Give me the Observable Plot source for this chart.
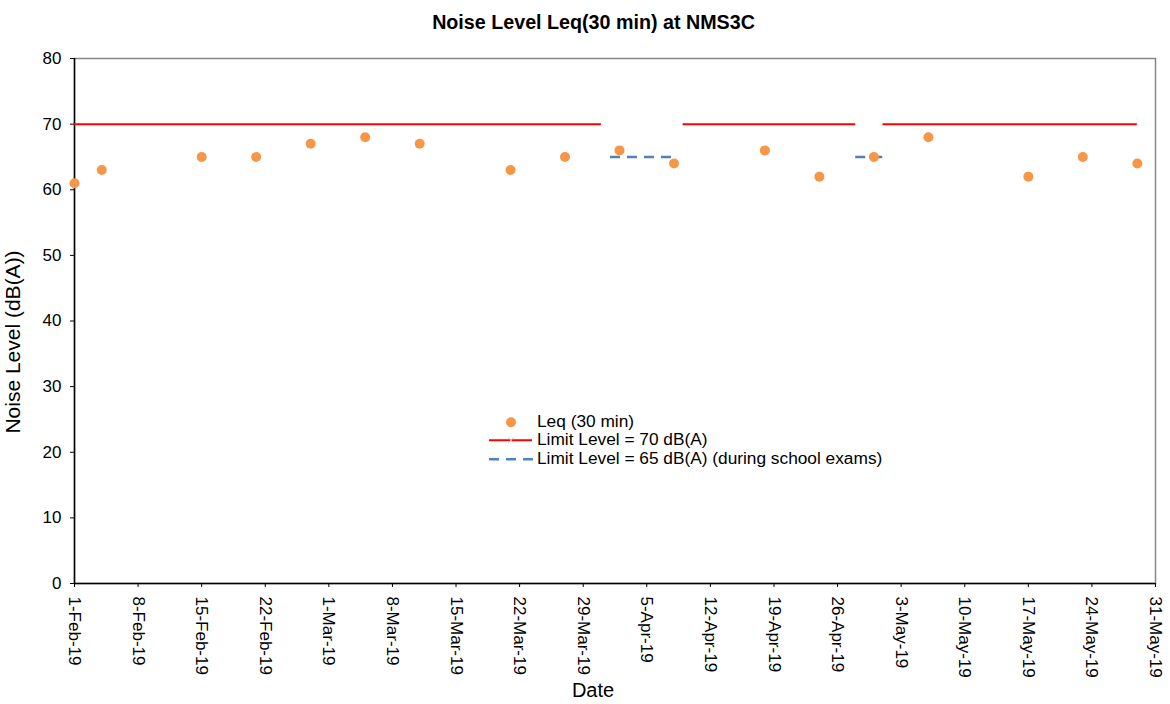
<!DOCTYPE html>
<html>
<head>
<meta charset="utf-8">
<script src="https://cdn.jsdelivr.net/npm/d3@7"></script>
<script src="https://cdn.jsdelivr.net/npm/@observablehq/plot@0.6"></script>
<style>
  html, body { margin: 0; padding: 0; background: #fff; }
  #wrap { position: relative; width: 1170px; height: 704px; font-family: "Liberation Sans", Arial, sans-serif; color: #000; }
  #title { box-sizing: border-box; width: 1170px; height: 40px; line-height: 45px; padding-left: 17px; text-align: center; font-weight: bold; font-size: 19.7px; white-space: nowrap; }
  #legend { position: absolute; left: 489px; top: 412.9px; font-size: 16px; }
  #legend .row { display: flex; align-items: center; height: 18.4px; white-space: nowrap; }
  #legend .row span { display: inline-block; height: 18.4px; line-height: 18.4px; transform: scaleX(1.08); transform-origin: 0 50%; }
  #legend svg { display: block; flex: none; }
</style>
</head>
<body>
<div id="wrap">
  <div id="title"></div>
  <div id="chart"></div>
  <div id="legend"></div>
</div>
<script>
// ---- Data ----
const chartTitle = "Noise Level Leq(30 min) at NMS3C";
const yLabel = "Noise Level (dB(A))";
const xLabel = "Date";

const leqDates = ["2019-02-01","2019-02-04","2019-02-15","2019-02-21","2019-02-27","2019-03-05","2019-03-11","2019-03-21","2019-03-27","2019-04-02","2019-04-08","2019-04-18","2019-04-24","2019-04-30","2019-05-06","2019-05-17","2019-05-23","2019-05-29"];
const leqValues = [61,63,65,65,67,68,67,63,65,66,64,66,62,65,68,62,65,64];

const limit70Level = 70;
const limit70Starts = ["2019-02-01","2019-04-09","2019-05-01"];
const limit70Ends   = ["2019-03-31","2019-04-28","2019-05-29"];

const limit65Level = 65;
const limit65Starts = ["2019-04-01","2019-04-28"];
const limit65Ends   = ["2019-04-08","2019-05-01"];

const xDomain = ["2019-02-01","2019-05-31"];
const xTicks = ["2019-02-01","2019-02-08","2019-02-15","2019-02-22","2019-03-01","2019-03-08","2019-03-15","2019-03-22","2019-03-29","2019-04-05","2019-04-12","2019-04-19","2019-04-26","2019-05-03","2019-05-10","2019-05-17","2019-05-24","2019-05-31"];
const yDomain = [0, 80];
const yTicks = [0,10,20,30,40,50,60,70,80];

const legendLabels = ["Leq (30 min)", "Limit Level = 70 dB(A)", "Limit Level = 65 dB(A) (during school exams)"];

// ---- Build tables ----
const parse = s => new Date(s);
const leq = leqDates.map((d, i) => ({date: parse(d), value: leqValues[i]}));
const seg70 = limit70Starts.map((s, i) => ({start: parse(s), end: parse(limit70Ends[i]), level: limit70Level}));
const seg65 = limit65Starts.map((s, i) => ({start: parse(s), end: parse(limit65Ends[i]), level: limit65Level}));

const orange = "#F79646", red = "#FF0000", blue = "#4F81BD";

document.getElementById("title").textContent = chartTitle;

const chart = Plot.plot({
  width: 1170,
  height: 664,
  marginLeft: 74,
  marginRight: 15,
  marginTop: 18,
  marginBottom: 121,
  style: {fontFamily: "'Liberation Sans', Arial, sans-serif", fontSize: "17px", color: "#000", background: "white", overflow: "visible"},
  x: {type: "utc", domain: xDomain.map(parse)},
  y: {domain: yDomain},
  marks: [
    Plot.frame({stroke: "#868686", strokeWidth: 1.5}),
    Plot.ruleY([yDomain[0]], {stroke: "#000", strokeWidth: 1.5}),
    Plot.ruleX([parse(xDomain[0])], {stroke: "#000", strokeWidth: 1.5}),
    Plot.ruleY(seg70, {y: "level", x1: "start", x2: "end", stroke: red, strokeWidth: 2}),
    Plot.ruleY(seg65, {y: "level", x1: "start", x2: "end", stroke: blue, strokeWidth: 2.5, strokeDasharray: "10,7"}),
    Plot.dot(leq, {x: "date", y: "value", r: 5, fill: orange, stroke: null}),
    Plot.axisX({ticks: xTicks.map(parse), tickFormat: d3.utcFormat("%-d-%b-%y"), tickRotate: 90, tickSize: 4, tickPadding: 9, label: null, fontSize: 17}),
    Plot.axisY({ticks: yTicks, tickSize: 4, tickPadding: 9, label: null, fontSize: 17}),
    Plot.text([yLabel], {text: d => d, frameAnchor: "left", rotate: -90, dx: -61, dy: 21, fontSize: 21, textAnchor: "middle", lineAnchor: "middle"}),
    Plot.text([xLabel], {text: d => d, frameAnchor: "bottom", dx: -22, dy: 107, fontSize: 20, textAnchor: "middle", lineAnchor: "middle"})
  ]
});
document.getElementById("chart").appendChild(chart);

// ---- Legend ----
const legend = document.getElementById("legend");
const swatches = [
  `<svg width="48" height="18.4"><circle cx="22" cy="9.2" r="5" fill="${orange}"/></svg>`,
  `<svg width="48" height="18.4"><line x1="0" x2="43" y1="9.2" y2="9.2" stroke="${red}" stroke-width="2"/><path d="M19 6.2 L25 12.2 M25 6.2 L19 12.2" stroke="#C8C8C8" stroke-width="1"/></svg>`,
  `<svg width="48" height="18.4"><line x1="0" x2="44" y1="9.2" y2="9.2" stroke="${blue}" stroke-width="2.5" stroke-dasharray="10,7"/></svg>`
];
legendLabels.forEach((lab, i) => {
  const row = document.createElement("div");
  row.className = "row";
  row.innerHTML = swatches[i];
  const span = document.createElement("span");
  span.textContent = lab;
  row.appendChild(span);
  legend.appendChild(row);
});
</script>
</body>
</html>
